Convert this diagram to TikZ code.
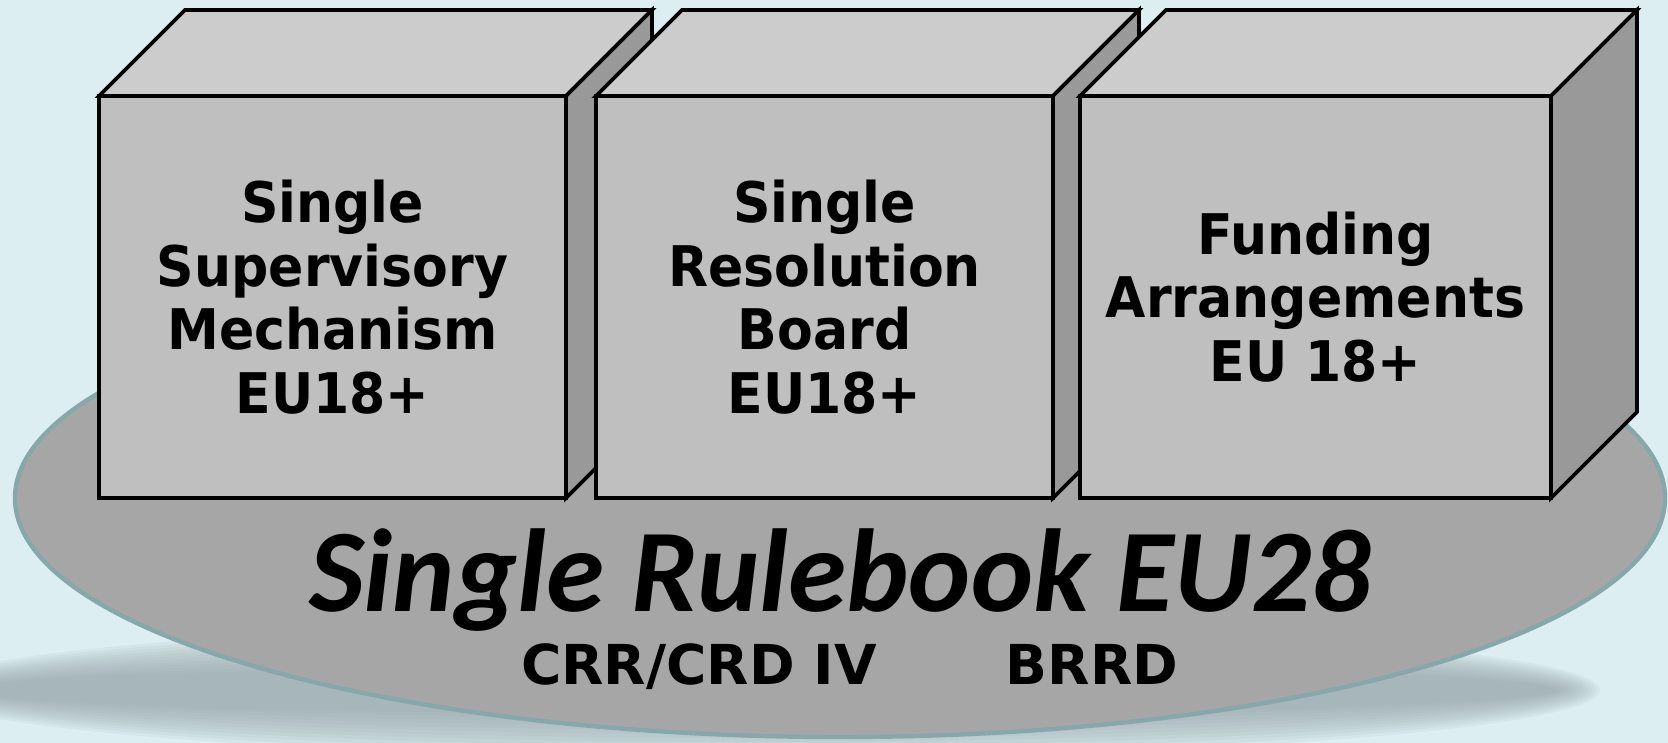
\documentclass[tikz,border=0pt]{standalone}
\usepackage{fontspec}
\setmainfont{DejaVu Sans}
\newfontfamily\boxfont[FakeStretch=0.93]{DejaVu Sans}
\newfontfamily\basefont{DejaVu Sans}
\newfontfamily\calfont{Carlito}
\usetikzlibrary{calc}
\definecolor{bgcol}{RGB}{220,238,241}
\definecolor{shcol}{RGB}{150,166,170}
\definecolor{discfill}{RGB}{166,166,166}
\definecolor{discline}{RGB}{135,168,170}
\definecolor{frontcol}{RGB}{191,191,191}
\definecolor{topcol}{RGB}{204,204,204}
\definecolor{sidecol}{RGB}{153,153,153}
\tikzset{
  frontface/.style={draw=black, fill=frontcol, line width=1.8pt, rectangle, inner sep=0pt, outer sep=0pt,
    minimum height=201pt, align=center, text=black,
    font=\boxfont\bfseries\fontsize{28}{31.75}\selectfont},
  topface/.style={draw=black, fill=topcol, line width=1.8pt, line join=miter},
  sideface/.style={draw=black, fill=sidecol, line width=1.8pt, line join=miter},
  disc/.style={fill=discfill, draw=discline, line width=2.2pt},
  title/.style={anchor=base, text=black, inner sep=0pt, font=\calfont\bfseries\itshape\fontsize{59}{61}\selectfont},
  sublabel/.style={anchor=base, text=black, inner sep=0pt, font=\basefont\bfseries\fontsize{27.5}{30}\selectfont}
}
\newcommand\drawcubefaces[1]{%
  \draw[topface] (#1.north west) -- ($(#1.north west)+(86,-86)$) -- ($(#1.north east)+(86,-86)$) -- (#1.north east) -- cycle;
  \draw[sideface] (#1.north east) -- ($(#1.north east)+(86,-86)$) -- ($(#1.south east)+(86,-86)$) -- (#1.south east) -- cycle;
}
\begin{document}
\begin{tikzpicture}[x=0.5pt,y=-0.5pt]
\fill[bgcol] (0,0) rectangle (1668,743);
\useasboundingbox (0,0) rectangle (1668,743);
% shadow
\foreach \i in {0,...,11} {
  \fill[shcol, opacity=0.1] (760,690) ellipse ({840-4*\i} and {68-4*\i});
}
% disc
\draw[disc] (840,498) ellipse (825 and 239);
% cubes
\node[frontface, minimum width=233.5pt] (ssm) at (332.5,297) {Single\\Supervisory\\Mechanism\\EU18+};
\drawcubefaces{ssm}
\node[frontface, minimum width=228.5pt] (srb) at (824.5,297) {Single\\Resolution\\Board\\EU18+};
\drawcubefaces{srb}
\node[frontface, minimum width=235.5pt] (fa) at (1315.5,297) {Funding\\Arrangements\\EU 18+};
\drawcubefaces{fa}
% labels
\node[title] (rb) at (840,611) {Single Rulebook EU28};
\node[sublabel] (crr) at (699,684) {CRR/CRD IV};
\node[sublabel] (brrd) at (1092,684) {BRRD};
\end{tikzpicture}
\end{document}
